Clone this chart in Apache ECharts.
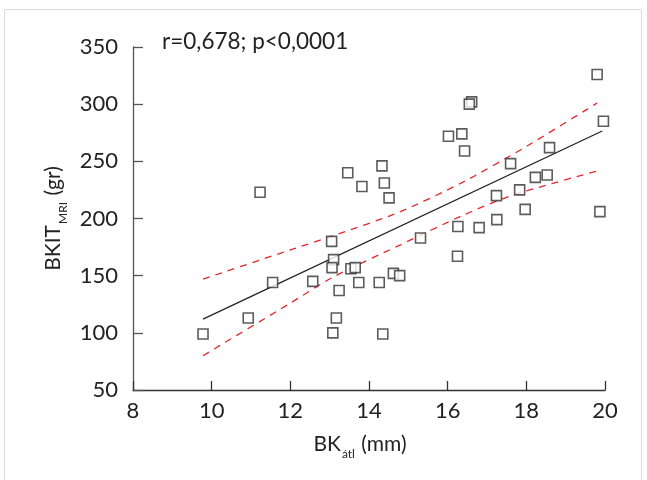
<!DOCTYPE html>
<html><head><meta charset="utf-8">
<script src="https://cdn.jsdelivr.net/npm/echarts@6/dist/echarts.min.js"></script>
<style>html,body{margin:0;padding:0;background:#fff}#c{width:647px;height:480px}</style>
</head><body><div id="c"></div>
<script>
// x ticks / y ticks
const xMin = 8, xMax = 20, xStep = 2;
const yMin = 50, yMax = 350, yStep = 50;

// scatter data: BK_átl (mm) vs BKIT_MRI (gr)
const bkAtl   = [9.78, 10.93, 11.23, 11.55, 12.57, 13.05, 13.10, 13.06, 13.08, 13.17, 13.24, 13.46, 13.54, 13.65, 13.82, 13.74, 14.26, 14.33, 14.39, 14.51, 14.35, 14.62, 14.78, 15.31, 16.02, 16.36, 16.43, 16.61, 16.55, 16.26, 16.25, 16.80, 17.24, 17.25, 17.60, 17.83, 17.97, 18.23, 18.53, 18.59, 19.80, 19.96, 19.87];
const bkitMri = [99, 113, 223, 144, 145, 180, 164, 157, 100, 113, 137, 240, 156, 157, 228, 144, 144, 246, 231, 218, 99, 152, 150, 183, 272, 274, 259, 302, 300, 193, 167, 192, 220, 199, 248, 225, 208, 236, 238, 262, 326, 285, 206];

// regression line endpoints
const fitX = [9.78, 19.93];
const fitY = [112, 276.5];

// 95% confidence band
const ciUpperX = [9.78, 12, 13.1, 14.8, 16.4, 18, 19.8];
const ciUpper  = [147, 172.5, 185, 206, 232, 263, 301];
const ciLowerX = [9.78, 12, 13.1, 14.8, 16.4, 17.67, 19.8];
const ciLower  = [80, 126, 149, 177, 203, 220.6, 241.5];

const statText = 'r=0,678; p<0,0001';
const xName = '{m|BK}{s|átl}{m| (mm)}';
const yName = '{m|BKIT}{s|MRI}{m| (gr)}';

const FONT = 'Lato';
const TXT = '#222';

const chart = echarts.init(document.getElementById('c'), null, {renderer: 'canvas'});
const zip = (a, b) => a.map((v, i) => [v, b[i]]);
const richName = {
  m: {fontSize: 21, fontFamily: FONT, color: TXT, lineHeight: 32, verticalAlign: 'middle'},
  s: {fontSize: 12, fontFamily: FONT, color: TXT, lineHeight: 32, verticalAlign: 'bottom', padding: [0, 1, 0, 1]}
};
chart.setOption({
  animation: false,
  backgroundColor: '#fff',
  grid: {left: 133, right: 42, top: 47, bottom: 90, containLabel: false},
  graphic: [
    {type: 'rect', shape: {x: 4.5, y: 9.5, width: 637, height: 480}, style: {fill: 'none', stroke: '#dcdcdc', lineWidth: 1}, silent: true, z: -1},
    {type: 'text', left: 162, top: 30, style: {text: statText, fontSize: 22.5, fontFamily: FONT, fill: TXT}}
  ],
  xAxis: {
    type: 'value', min: xMin, max: xMax, interval: xStep,
    axisLine: {show: true, lineStyle: {color: '#333', width: 1.3}},
    axisTick: {show: true, inside: true, length: 9, lineStyle: {color: '#333', width: 1.3}},
    splitLine: {show: false},
    axisLabel: {color: TXT, fontSize: 22, fontFamily: FONT, margin: 10, showMinLabel: true, showMaxLabel: true},
    name: xName, nameLocation: 'middle', nameGap: 38,
    nameTextStyle: {rich: richName, padding: [0, 18, 0, 0]}
  },
  yAxis: {
    type: 'value', min: yMin, max: yMax, interval: yStep,
    axisLine: {show: true, lineStyle: {color: '#555', width: 1.3}},
    axisTick: {show: true, inside: true, length: 10, lineStyle: {color: '#555', width: 1.3}},
    splitLine: {show: false},
    axisLabel: {color: TXT, fontSize: 22, fontFamily: FONT, margin: 15},
    name: yName, nameLocation: 'middle', nameRotate: 90, nameGap: 64,
    nameTextStyle: {rich: richName}
  },
  series: [
    {type: 'line', data: zip(ciUpperX, ciUpper), showSymbol: false, smooth: 0.25, z: 2,
     lineStyle: {color: '#e3262b', width: 1.3, type: [7, 6]}},
    {type: 'line', data: zip(ciLowerX, ciLower), showSymbol: false, smooth: 0.25, z: 2,
     lineStyle: {color: '#e3262b', width: 1.3, type: [7, 6]}},
    {type: 'line', data: zip(fitX, fitY), showSymbol: false, z: 3,
     lineStyle: {color: '#222', width: 1.3}},
    {type: 'scatter', data: zip(bkAtl, bkitMri), symbol: 'rect', symbolSize: 10, z: 4,
     itemStyle: {color: '#fff', borderColor: '#333', borderWidth: 1.6}}
  ]
});
</script>
</body></html>
